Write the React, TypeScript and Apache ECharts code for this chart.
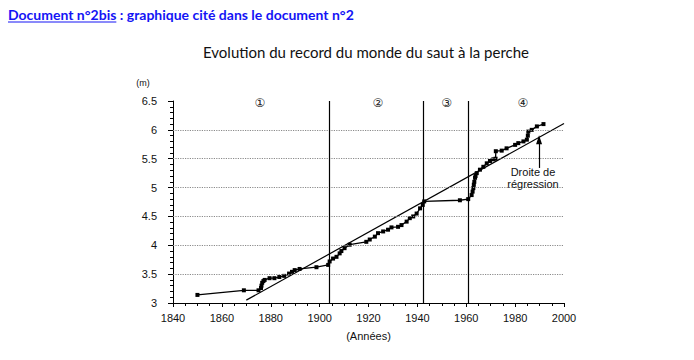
import React, { useEffect, useRef } from "react";
import * as echarts from "echarts";

const recordYears = [
  1850, 1869, 1875, 1876, 1876.2, 1876.5, 1877, 1877.5, 1879.5, 1881.5, 1883.5, 1885.5,
  1887.5, 1888.7, 1889.8, 1891.8, 1898.7, 1903.5, 1904.1, 1905.5, 1906.9, 1908.2, 1908.9,
  1910.2, 1912.3, 1919.1, 1920.5, 1922.6, 1923.9, 1926, 1928, 1929.4, 1932.1, 1933.5,
  1935.6, 1936.9, 1938.3, 1939.7, 1941.1, 1942.2, 1942.8, 1957.4, 1960.8, 1962.2, 1962.6,
  1962.9, 1963.1, 1963.3, 1963.6, 1963.8, 1964.3, 1965.6, 1967, 1968.4, 1969.7, 1971.1,
  1972, 1972.1, 1974.5, 1976.5, 1980, 1981.3, 1983.4, 1984.8, 1985.2, 1985.4, 1986.8,
  1988.9, 1991.6,
];
const recordHeights = [
  3.14, 3.22, 3.22, 3.26, 3.3, 3.35, 3.38, 3.4, 3.43, 3.43, 3.45, 3.47,
  3.51, 3.54, 3.57, 3.59, 3.62, 3.66, 3.72, 3.77, 3.8, 3.86, 3.9,
  3.95, 4.01, 4.06, 4.1, 4.15, 4.21, 4.24, 4.27, 4.31, 4.32, 4.35,
  4.41, 4.47, 4.5, 4.55, 4.64, 4.7, 4.76, 4.78, 4.8, 4.87, 4.93,
  4.99, 5.05, 5.1, 5.17, 5.2, 5.25, 5.31, 5.36, 5.42, 5.46, 5.49,
  5.5, 5.63, 5.64, 5.68, 5.74, 5.77, 5.8, 5.83, 5.9, 5.97, 6.0,
  6.06, 6.1,
];
const regressionYears = [1870, 2000];
const regressionHeights = [3.05, 6.11];
const periodSeparators = [1903.8, 1942.6, 1960.8];
const periodLabels = ["①", "②", "③", "④"];
const periodLabelYears = [1875.5, 1923.8, 1952, 1983.2];
const periodLabelHeight = 6.46;
const gridValues = [3.5, 4, 4.5, 5, 5.5, 6];
const arrowYear = 1989.8;
const arrowFrom = 5.34;
const arrowTo = 5.83;
const noteYear = 1987.3;
const noteHeight = 5.17;

const heading1 = "Document n°2bis";
const heading2 = " : graphique cité dans le document n°2";
const title = "Evolution du record du monde du saut à la perche";

export default function App() {
  const ref = useRef<HTMLDivElement>(null);
  useEffect(() => {
    if (!ref.current) return;
    const chart = echarts.init(ref.current, null, { renderer: "svg" });
    const headFont = "bold 14px Lato";
    let w1 = 108;
    try {
      const ctx = document.createElement("canvas").getContext("2d");
      if (ctx) {
        ctx.font = headFont;
        w1 = ctx.measureText(heading1).width;
      }
    } catch (e) {}
    const blue = "#1414f5";
    const axisFont = "Liberation Sans";
    chart.setOption({
      animation: false,
      grid: { left: 173, right: 130, top: 101, bottom: 57 },
      xAxis: {
        type: "value",
        min: 1840,
        max: 2000,
        interval: 20,
        name: "(Années)",
        nameLocation: "middle",
        nameGap: 27,
        nameTextStyle: { color: "#111", fontFamily: axisFont, fontSize: 11 },
        axisLine: { lineStyle: { color: "#000", width: 1 } },
        axisTick: { show: true, length: 4, lineStyle: { color: "#000" } },
        minorTick: { show: true, splitNumber: 4, length: 3, lineStyle: { color: "#000" } },
        axisLabel: {
          color: "#111",
          fontFamily: axisFont,
          fontSize: 11,
          margin: 9,
          formatter: (v: number) => String(v),
        },
        splitLine: { show: false },
      },
      yAxis: {
        type: "value",
        min: 3,
        max: 6.5,
        interval: 0.5,
        axisLine: { show: true, lineStyle: { color: "#000", width: 1 } },
        axisTick: { show: true, length: 5, lineStyle: { color: "#000" } },
        minorTick: { show: true, splitNumber: 5, length: 3, lineStyle: { color: "#000" } },
        axisLabel: {
          color: "#111",
          fontFamily: axisFont,
          fontSize: 11,
          margin: 16,
          formatter: (v: number) => String(v),
        },
        splitLine: { show: false },
      },
      graphic: [
        {
          type: "text",
          left: 8,
          top: 7,
          style: { text: heading1, font: headFont, fill: blue },
        },
        {
          type: "line",
          shape: { x1: 8, y1: 22, x2: 8 + w1, y2: 22 },
          style: { stroke: blue, lineWidth: 1 },
        },
        {
          type: "text",
          left: 8 + w1,
          top: 7,
          style: { text: heading2, font: headFont, fill: blue },
        },
        {
          type: "text",
          x: 366,
          y: 52,
          style: {
            text: title,
            font: "15px Lato",
            fill: "#111",
            align: "center",
            verticalAlign: "middle",
          },
        },
        {
          type: "text",
          x: 143,
          y: 83,
          style: {
            text: "(m)",
            font: "9px Liberation Sans",
            fill: "#111",
            align: "center",
            verticalAlign: "middle",
          },
        },
      ],
      series: [
        {
          type: "line",
          data: regressionYears.map((y, i) => [y, regressionHeights[i]]),
          showSymbol: false,
          symbol: "none",
          lineStyle: { color: "#000", width: 1.2 },
          silent: true,
          z: 3,
          markLine: {
            silent: true,
            symbol: ["none", "none"],
            label: { show: false },
            data: [
              ...gridValues.map((v) => ({
                yAxis: v,
                lineStyle: { color: "#8a8a8a", type: "dotted", width: 1.2 },
              })),
              [
                {
                  coord: [arrowYear, arrowFrom],
                  symbol: "none",
                  lineStyle: { color: "#000", type: "solid", width: 1.2 },
                },
                { coord: [arrowYear, arrowTo], symbol: "triangle", symbolSize: [6, 9] },
              ],
            ],
          },
          markPoint: {
            silent: true,
            symbol: "circle",
            symbolSize: 0,
            data: [
              {
                name: "Droite de\nrégression",
                coord: [noteYear, noteHeight],
                label: {
                  show: true,
                  formatter: "{b}",
                  color: "#111",
                  fontFamily: axisFont,
                  fontSize: 11,
                  lineHeight: 12,
                  position: "inside",
                },
              },
            ],
          },
        },
        {
          type: "line",
          data: recordYears.map((y, i) => [y, recordHeights[i]]),
          symbol: "rect",
          symbolSize: 4,
          showSymbol: true,
          itemStyle: { color: "#000" },
          lineStyle: { color: "#000", width: 1.3 },
          z: 4,
          markLine: {
            silent: true,
            symbol: ["none", "none"],
            label: { show: false },
            lineStyle: { color: "#000", type: "solid", width: 1.2 },
            data: periodSeparators.map((x) => ({ xAxis: x })),
          },
          markPoint: {
            silent: true,
            symbol: "circle",
            symbolSize: 0,
            data: periodLabels.map((t, i) => ({
              name: t,
              coord: [periodLabelYears[i], periodLabelHeight],
              label: {
                show: true,
                formatter: "{b}",
                color: "#222",
                fontFamily: "DejaVu Sans",
                fontSize: 12,
                position: "inside",
              },
            })),
          },
        },
      ],
    });
    return () => chart.dispose();
  }, []);
  return (
    <div
      ref={ref}
      style={{ position: "fixed", left: 0, top: 0, width: 694, height: 360, background: "#fff" }}
    />
  );
}
